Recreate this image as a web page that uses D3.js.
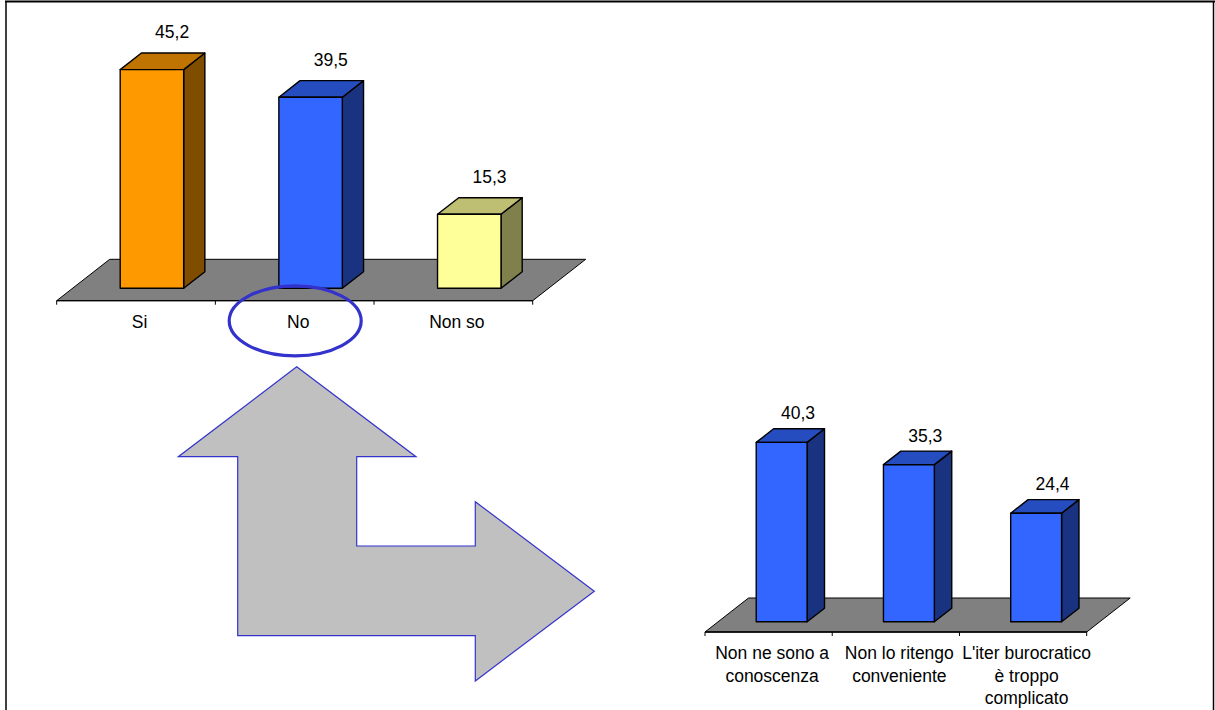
<!DOCTYPE html>
<html>
<head>
<meta charset="utf-8">
<script src="https://cdn.jsdelivr.net/npm/d3@7"></script>
<style>
  html, body { margin: 0; padding: 0; background: #ffffff; }
  svg { display: block; }
  text { font-family: "Liberation Sans", Arial, sans-serif; fill: #000; }
</style>
</head>
<body>
<svg id="chart" width="1215" height="710"></svg>
<script>
// First question: answers
const answerCategories = ["Si", "No", "Non so"];
const answerValues = [45.2, 39.5, 15.3];
const answerColors = ["#FF9900", "#3366FF", "#FFFF99"];

// Follow-up for "No": reasons (multi-line category labels)
const reasonCategories = [
  ["Non ne sono a", "conoscenza"],
  ["Non lo ritengo", "conveniente"],
  ["L'iter burocratico", "è troppo", "complicato"]
];
const reasonValues = [40.3, 35.3, 24.4];
const reasonColors = ["#3366FF", "#3366FF", "#3366FF"];

const svg = d3.select("#chart");
const fmt = d3.formatLocale({ decimal: ",", thousands: ".", grouping: [3], currency: ["", "€"] }).format(".1f");

function shade(color, k) {
  const c = d3.rgb(color);
  return d3.rgb(Math.round(c.r * k), Math.round(c.g * k), Math.round(c.b * k)).formatHex();
}

// Outer frame
svg.append("line").attr("x1", 5).attr("x2", 1215).attr("y1", 1.5).attr("y2", 1.5)
  .attr("stroke", "#000").attr("stroke-width", 2);
svg.append("line").attr("x1", 6).attr("x2", 6).attr("y1", 1).attr("y2", 710)
  .attr("stroke", "#000").attr("stroke-width", 1.5);
svg.append("line").attr("x1", 1213.5).attr("x2", 1213.5).attr("y1", 1).attr("y2", 710)
  .attr("stroke", "#000").attr("stroke-width", 1.5);

// 3D column chart on a grey floor
function columns3d(cfg) {
  const g = svg.append("g");
  const idx = d3.range(cfg.values.length);
  const x = d3.scaleBand().domain(idx).range([cfg.x0, cfg.x1]).padding(0);
  const bw = x.bandwidth() * 0.4;
  const depthFrac = 0.3;                       // bars sit mid-way in the floor depth
  const bdx = cfg.ddx * 0.4, bdy = cfg.ddy * 0.4;
  const shiftX = cfg.ddx * depthFrac;
  const baseY = cfg.floorY + cfg.ddy * depthFrac;
  const y = d3.scaleLinear().domain([0, cfg.yMax]).range([baseY, cfg.yTop]);

  // floor
  const fp = [[cfg.x0, cfg.floorY], [cfg.x1, cfg.floorY],
              [cfg.x1 + cfg.ddx, cfg.floorY + cfg.ddy], [cfg.x0 + cfg.ddx, cfg.floorY + cfg.ddy]];
  g.append("polygon").attr("points", fp.map(p => p.join(",")).join(" "))
    .attr("fill", "#808080").attr("stroke", "#000").attr("stroke-width", 1)
    .attr("stroke-linejoin", "miter");

  // category axis along the floor's front edge
  g.append("line").attr("x1", cfg.x0).attr("x2", cfg.x1)
    .attr("y1", cfg.floorY).attr("y2", cfg.floorY)
    .attr("stroke", "#000").attr("stroke-width", 1.3);
  const ticks = idx.map(i => x(i)).concat([cfg.x1]);
  g.selectAll(".tick").data(ticks).join("line")
    .attr("x1", d => d).attr("x2", d => d)
    .attr("y1", cfg.floorY).attr("y2", cfg.floorY + 4)
    .attr("stroke", "#000").attr("stroke-width", 1);

  // bars
  const bars = g.selectAll(".bar").data(idx).join("g");
  bars.each(function (i) {
    const b = d3.select(this);
    const xl = x(i) + x.bandwidth() / 2 + shiftX - bw / 2;
    const xr = xl + bw;
    const yt = y(cfg.values[i]);
    const yb = y(0);
    const col = cfg.colors[i];
    const pts = a => a.map(p => p.join(",")).join(" ");
    b.append("polygon")
      .attr("points", pts([[xr, yt], [xr + bdx, yt + bdy], [xr + bdx, yb + bdy], [xr, yb]]))
      .attr("fill", shade(col, 0.5));
    b.append("polygon")
      .attr("points", pts([[xl, yt], [xr, yt], [xr + bdx, yt + bdy], [xl + bdx, yt + bdy]]))
      .attr("fill", shade(col, 0.75));
    b.append("rect").attr("x", xl).attr("y", yt).attr("width", bw).attr("height", yb - yt)
      .attr("fill", col);
    b.selectAll("polygon, rect").attr("stroke", "#000").attr("stroke-width", 1.4)
      .attr("stroke-linejoin", "round");
    // value label above the bar's top face
    b.append("text")
      .attr("x", xl + bw / 2 + bdx - 1)
      .attr("y", yt + bdy - cfg.labelGap)
      .attr("text-anchor", "middle")
      .attr("font-size", 17.5)
      .text(fmt(cfg.values[i]));
  });

  // category labels
  idx.forEach(i => {
    const lines = Array.isArray(cfg.categories[i]) ? cfg.categories[i] : [cfg.categories[i]];
    const t = g.append("text")
      .attr("text-anchor", "middle")
      .attr("font-size", 17.5)
      .attr("x", x(i) + x.bandwidth() / 2 + 3.5)
      .attr("y", cfg.floorY + 27);
    lines.forEach((ln, k) => {
      t.append("tspan").attr("x", x(i) + x.bandwidth() / 2 + 3.5)
        .attr("dy", k === 0 ? 0 : 22.7).text(ln);
    });
  });
}

columns3d({
  categories: answerCategories, values: answerValues, colors: answerColors,
  x0: 56.7, x1: 532.7, floorY: 300.7, ddx: 53, ddy: -41.4,
  yMax: 50, yTop: 46.4, labelGap: 15
});

columns3d({
  categories: reasonCategories, values: reasonValues, colors: reasonColors,
  x0: 705, x1: 1086.7, floorY: 632, ddx: 43.5, ddy: -34,
  yMax: 45, yTop: 421.5, labelGap: 9.5
});

// Connector arrow from the "No" answer to its follow-up chart
const arrowPts = [
  [296.7, 366.7], [416, 456.7], [356.7, 456.7], [356.7, 546], [475.3, 546],
  [475.3, 501.7], [594.3, 591.3], [475.3, 681], [475.3, 635.7], [237.7, 635.7],
  [237.7, 456.7], [178.3, 456.7]
];
svg.append("path")
  .attr("d", d3.line()(arrowPts) + "Z")
  .attr("fill", "#C0C0C0").attr("stroke", "#3333CC").attr("stroke-width", 1.2)
  .attr("stroke-linejoin", "miter");

// Highlight ring around "No"
svg.append("ellipse")
  .attr("cx", 295.2).attr("cy", 320.8).attr("rx", 66).attr("ry", 35)
  .attr("fill", "none").attr("stroke", "#3333CC").attr("stroke-width", 3.2);
</script>
</body>
</html>
